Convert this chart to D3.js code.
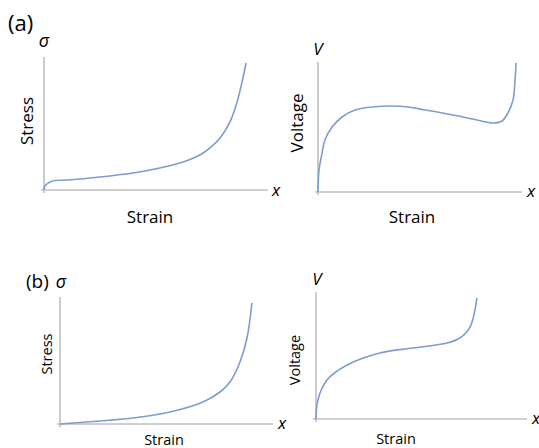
<!DOCTYPE html>
<html>
<head>
<meta charset="utf-8">
<script src="https://cdn.jsdelivr.net/npm/d3@7"></script>
<style>
  body { margin: 0; background: #fff; }
  text { font-family: "Open Sans", sans-serif; fill: #000; }
</style>
</head>
<body>
<svg width="539" height="448"></svg>
<script>
        // Curves, strain and value both normalised to the axis length
        var aStressStrain = [0, 0.004, 0.027, 0.049, 0.103, 0.25, 0.397, 0.473, 0.621, 0.696, 0.741, 0.786, 0.83, 0.862, 0.884, 0.902];
        var aStressValue  = [0, 0.03, 0.06, 0.071, 0.075, 0.098, 0.128, 0.15, 0.211, 0.263, 0.316, 0.391, 0.511, 0.662, 0.812, 0.955];

        var aVoltStrain = [0, 0.005, 0.02, 0.034, 0.069, 0.118, 0.181, 0.265, 0.363, 0.441, 0.525, 0.662, 0.779, 0.858, 0.902, 0.931, 0.956, 0.966, 0.971];
        var aVoltValue  = [0, 0.169, 0.3, 0.4, 0.5, 0.577, 0.631, 0.654, 0.662, 0.654, 0.631, 0.592, 0.554, 0.531, 0.546, 0.608, 0.708, 0.862, 0.992];

        var bStressStrain = [0, 0.188, 0.343, 0.516, 0.671, 0.751, 0.798, 0.845, 0.878, 0.901];
        var bStressValue  = [0, 0.024, 0.047, 0.094, 0.173, 0.252, 0.331, 0.488, 0.677, 0.953];

        var bVoltStrain = [0, 0.009, 0.052, 0.147, 0.303, 0.46, 0.621, 0.682, 0.73, 0.763];
        var bVoltValue  = [0, 0.15, 0.307, 0.425, 0.52, 0.559, 0.598, 0.638, 0.724, 0.953];

        var svg = d3.select("svg");

        var axisColor = "#bfbfbf";
        var lineColor = "#7d9cd1";

        // one sketch panel: box in pixels, labels and sizes
        function panel(p) {
            var xScale = d3.scaleLinear().domain([0, 1]).range([p.left, p.right]);
            var yScale = d3.scaleLinear().domain([0, 1]).range([p.bottom, p.top]);
            var g = svg.append("g");

            // axes
            g.append("line")
                .attr("x1", xScale(0)).attr("x2", xScale(0))
                .attr("y1", yScale(0) + 3).attr("y2", yScale(1))
                .attr("stroke", axisColor).attr("stroke-width", 1.6);
            g.append("line")
                .attr("x1", xScale(0) - 3).attr("x2", xScale(1))
                .attr("y1", yScale(0)).attr("y2", yScale(0))
                .attr("stroke", axisColor).attr("stroke-width", 1.6);

            var pts = p.strain.map(function(d, i) { return [d, p.value[i]]; });
            var line = d3.line()
                .x(function(d) { return xScale(d[0]); })
                .y(function(d) { return yScale(d[1]); })
                .curve(d3.curveCatmullRom.alpha(0.5));
            g.append("path")
                .attr("d", line(pts))
                .attr("fill", "none")
                .attr("stroke", lineColor)
                .attr("stroke-width", 1.6);

            // symbol at top of y axis
            g.append("text")
                .attr("x", xScale(0) + p.symDx)
                .attr("y", p.symY)
                .attr("text-anchor", "middle")
                .attr("font-style", "italic")
                .attr("font-size", p.symSize)
                .text(p.sym);

            // x at end of x axis
            g.append("text")
                .attr("x", xScale(1) + p.xDx)
                .attr("y", yScale(0) + p.xDy)
                .attr("font-style", "italic")
                .attr("font-size", "17px")
                .text("x");

            // axis titles
            g.append("text")
                .attr("x", p.xTitleX)
                .attr("y", p.xTitleY)
                .attr("text-anchor", "middle")
                .attr("font-size", p.titleSize)
                .text("Strain");
            g.append("text")
                .attr("transform", "translate(" + p.yTitleX + "," + p.yTitleY + ") rotate(-90)")
                .attr("text-anchor", "middle")
                .attr("font-size", p.titleSize)
                .text(p.yTitle);
        }

        panel({left: 44, right: 268, top: 57, bottom: 190, strain: aStressStrain, value: aStressValue,
               sym: "σ", symDx: 0, symY: 47, symSize: "18px", xDx: 4, xDy: 6,
               yTitle: "Stress", yTitleX: 33, yTitleY: 121, xTitleX: 150, xTitleY: 223, titleSize: "17px"});
        panel({left: 318, right: 522, top: 62, bottom: 192, strain: aVoltStrain, value: aVoltValue,
               sym: "V", symDx: 0, symY: 55, symSize: "17px", xDx: 5, xDy: 5,
               yTitle: "Voltage", yTitleX: 303, yTitleY: 123, xTitleX: 412, xTitleY: 223, titleSize: "17px"});
        panel({left: 60, right: 273, top: 297, bottom: 424, strain: bStressStrain, value: bStressValue,
               sym: "σ", symDx: 1, symY: 288, symSize: "18px", xDx: 5, xDy: 5,
               yTitle: "Stress", yTitleX: 52, yTitleY: 354, xTitleX: 164, xTitleY: 445, titleSize: "14.5px"});
        panel({left: 316, right: 527, top: 292, bottom: 419, strain: bVoltStrain, value: bVoltValue,
               sym: "V", symDx: 1, symY: 285, symSize: "17px", xDx: 5, xDy: 5,
               yTitle: "Voltage", yTitleX: 300, yTitleY: 360, xTitleX: 396, xTitleY: 444, titleSize: "14.5px"});

        // panel letters
        svg.append("text").attr("x", 8).attr("y", 31).attr("font-size", "22px").text("(a)");
        svg.append("text").attr("x", 26).attr("y", 288).attr("font-size", "19px").text("(b)");
</script>
</body>
</html>
